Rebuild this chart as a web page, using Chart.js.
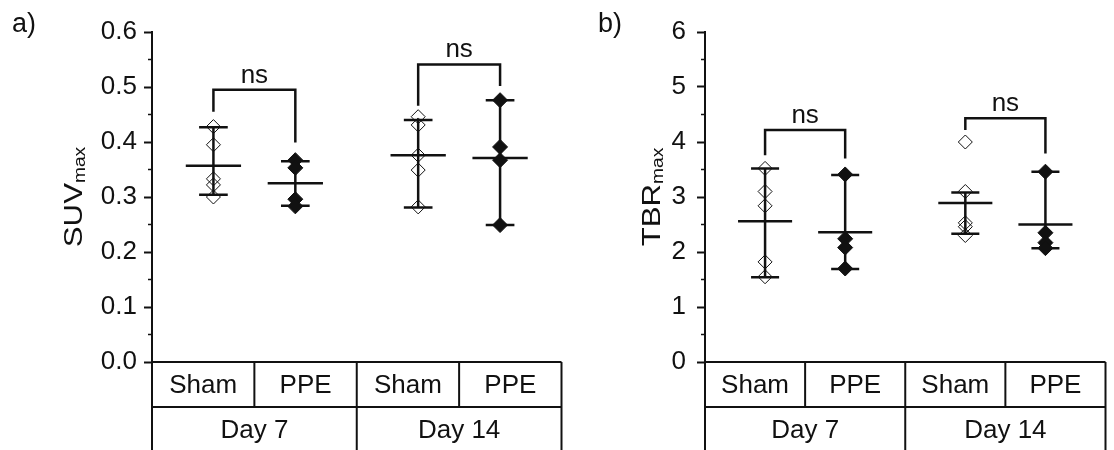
<!DOCTYPE html>
<html>
<head>
<meta charset="utf-8">
<script src="https://cdn.jsdelivr.net/npm/chart.js@4"></script>
<style>
  body { margin: 0; background: #fff; }
  canvas { position: absolute; top: 0; }
</style>
</head>
<body>
<canvas id="suv" width="570" height="450" style="left:0"></canvas>
<canvas id="tbr" width="544" height="450" style="left:570px"></canvas>
<script>
const groups = ["Sham", "PPE", "Sham", "PPE"];
const days = ["Day 7", "Day 14"];
const xPos = [0.6, 1.4, 2.6, 3.4];

// SUVmax per animal
const suvShamD7 = [0.428, 0.395, 0.333, 0.322, 0.300];
const suvPpeD7 = [0.367, 0.353, 0.296, 0.283];
const suvShamD14 = [0.446, 0.431, 0.376, 0.349, 0.282];
const suvPpeD14 = [0.476, 0.391, 0.367, 0.249];
const suvMean = [0.357, 0.325, 0.376, 0.371];
const suvLow = [0.304, 0.284, 0.281, 0.249];
const suvHigh = [0.427, 0.365, 0.440, 0.476];
const suvBracketTop = [0.495, 0.541];
const suvBracketLeg = [[0.455, 0.399], [0.466, 0.502]];

// TBRmax per animal
const tbrShamD7 = [3.52, 3.10, 2.84, 1.82, 1.55];
const tbrPpeD7 = [3.41, 2.24, 2.08, 1.70];
const tbrShamD14 = [4.00, 3.10, 2.53, 2.46, 2.30];
const tbrPpeD14 = [3.46, 2.35, 2.17, 2.07];
const tbrMean = [2.56, 2.36, 2.89, 2.50];
const tbrLow = [1.54, 1.69, 2.33, 2.07];
const tbrHigh = [3.52, 3.40, 3.08, 3.46];
const tbrBracketTop = [4.22, 4.43];
const tbrBracketLeg = [[3.76, 3.70], [4.22, 3.79]];

const FONT = "Arial, 'Liberation Sans', sans-serif";
const INK = "#111";

function seg(x0, y0, x1, y1) {
  return { data: [{ x: x0, y: y0 }, { x: x1, y: y1 }], showLine: true, pointRadius: 0,
    borderColor: INK, borderWidth: 2.5, fill: false };
}

function buildDatasets(points, mean, low, high, bTop, bLeg) {
  const ds = points.map((vals, i) => ({
    data: vals.map((v) => ({ x: xPos[i], y: v })),
    pointStyle: "rectRot",
    pointRadius: i % 2 ? 7.5 : 7,
    borderWidth: 1,
    borderColor: INK,
    backgroundColor: i % 2 ? INK : "rgba(0,0,0,0)",
  }));
  xPos.forEach((x, i) => {
    ds.push(seg(x - 0.27, mean[i], x + 0.27, mean[i]));
    ds.push(seg(x, low[i], x, high[i]));
    ds.push(seg(x - 0.14, low[i], x + 0.14, low[i]));
    ds.push(seg(x - 0.14, high[i], x + 0.14, high[i]));
  });
  bTop.forEach((top, j) => {
    const x0 = xPos[2 * j], x1 = xPos[2 * j + 1];
    ds.push({
      data: [{ x: x0, y: bLeg[j][0] }, { x: x0, y: top }, { x: x1, y: top }, { x: x1, y: bLeg[j][1] }],
      showLine: true, pointRadius: 0, borderColor: INK, borderWidth: 2.5, fill: false,
    });
  });
  return ds;
}

// table under the axis, minor ticks, axis title, panel letter, "ns" marks
function decor(cfg) {
  return {
    id: "decor",
    afterDraw(chart) {
      const ctx = chart.ctx;
      const a = chart.chartArea;
      const sx = chart.scales.x, sy = chart.scales.y;
      const r0 = a.bottom, r1 = r0 + 45, r2 = r0 + 92;
      ctx.save();
      ctx.strokeStyle = INK;
      ctx.fillStyle = INK;
      ctx.lineWidth = 2;
      const line = (x0, y0, x1, y1) => { ctx.beginPath(); ctx.moveTo(x0, y0); ctx.lineTo(x1, y1); ctx.stroke(); };
      line(sx.getPixelForValue(0) - 1, r0, sx.getPixelForValue(4), r0);
      line(sx.getPixelForValue(0), r1, sx.getPixelForValue(4), r1);
      line(a.left, r0, a.left, r2);
      [1, 3].forEach((c) => line(sx.getPixelForValue(c), r0, sx.getPixelForValue(c), r1));
      [2, 4].forEach((c) => line(sx.getPixelForValue(c), r0, sx.getPixelForValue(c), r2));

      ctx.font = "26px " + FONT;
      ctx.textAlign = "center";
      ctx.textBaseline = "middle";
      groups.forEach((g, i) => ctx.fillText(g, sx.getPixelForValue(i + 0.5), (r0 + r1) / 2 + 1));
      days.forEach((d, j) => ctx.fillText(d, sx.getPixelForValue(2 * j + 1), (r1 + r2) / 2));

      // minor ticks halfway between the labelled ones
      ctx.lineWidth = 1.5;
      const ticks = sy.ticks.map((t) => t.value);
      for (let k = 0; k < ticks.length - 1; k++) {
        const y = sy.getPixelForValue((ticks[k] + ticks[k + 1]) / 2);
        line(a.left - 4, y, a.left, y);
      }

      // significance labels
      ctx.textBaseline = "alphabetic";
      cfg.bTop.forEach((top, j) => {
        const xm = sx.getPixelForValue((xPos[2 * j] + xPos[2 * j + 1]) / 2);
        ctx.fillText("ns", xm, sy.getPixelForValue(top) - 7);
      });

      // panel letter
      ctx.textAlign = "left";
      ctx.font = "27px " + FONT;
      ctx.fillText(cfg.letter, cfg.letterX, 32);

      // rotated axis title with subscript
      ctx.translate(cfg.titleX, (a.top + a.bottom) / 2);
      ctx.rotate(-Math.PI / 2);
      ctx.scale(1.2, 1);
      ctx.font = "26px " + FONT;
      const wMain = ctx.measureText(cfg.title).width;
      ctx.font = "16px " + FONT;
      const wSub = ctx.measureText("max").width;
      const start = -(wMain + wSub) / 2;
      ctx.font = "26px " + FONT;
      ctx.fillText(cfg.title, start, 0);
      ctx.font = "16px " + FONT;
      ctx.fillText("max", start + wMain, 3);
      ctx.restore();
    },
  };
}

function makePanel(canvas, cfg) {
  return new Chart(canvas, {
    type: "scatter",
    data: { datasets: buildDatasets(cfg.points, cfg.mean, cfg.low, cfg.high, cfg.bTop, cfg.bLeg) },
    options: {
      responsive: false,
      animation: false,
      events: [],
      layout: { padding: { left: 0, top: 32, right: cfg.padRight, bottom: 88 } },
      plugins: { legend: { display: false }, tooltip: { enabled: false } },
      scales: {
        x: { type: "linear", min: 0, max: 4, display: false },
        y: {
          min: 0,
          max: cfg.max,
          afterFit: (s) => { s.width = cfg.axisW; },
          border: { display: true, color: INK, width: 2 },
          grid: { drawOnChartArea: false, drawTicks: true, tickLength: 8, tickWidth: 2, tickColor: INK },
          ticks: {
            stepSize: cfg.step,
            padding: cfg.tickPad,
            color: INK,
            font: { family: FONT, size: 26 },
            callback: cfg.fmt,
          },
        },
      },
    },
    plugins: [decor(cfg)],
  });
}

makePanel(document.getElementById("suv"), {
  points: [suvShamD7, suvPpeD7, suvShamD14, suvPpeD14],
  mean: suvMean, low: suvLow, high: suvHigh,
  bTop: suvBracketTop, bLeg: suvBracketLeg,
  max: 0.6, step: 0.1, fmt: (v) => v.toFixed(1),
  axisW: 152, padRight: 8, tickPad: 7,
  letter: "a)", letterX: 12, title: "SUV", titleX: 82,
});

makePanel(document.getElementById("tbr"), {
  points: [tbrShamD7, tbrPpeD7, tbrShamD14, tbrPpeD14],
  mean: tbrMean, low: tbrLow, high: tbrHigh,
  bTop: tbrBracketTop, bLeg: tbrBracketLeg,
  max: 6, step: 1, fmt: (v) => String(v),
  axisW: 135, padRight: 2, tickPad: 11,
  letter: "b)", letterX: 28, title: "TBR", titleX: 90,
});
</script>
</body>
</html>
